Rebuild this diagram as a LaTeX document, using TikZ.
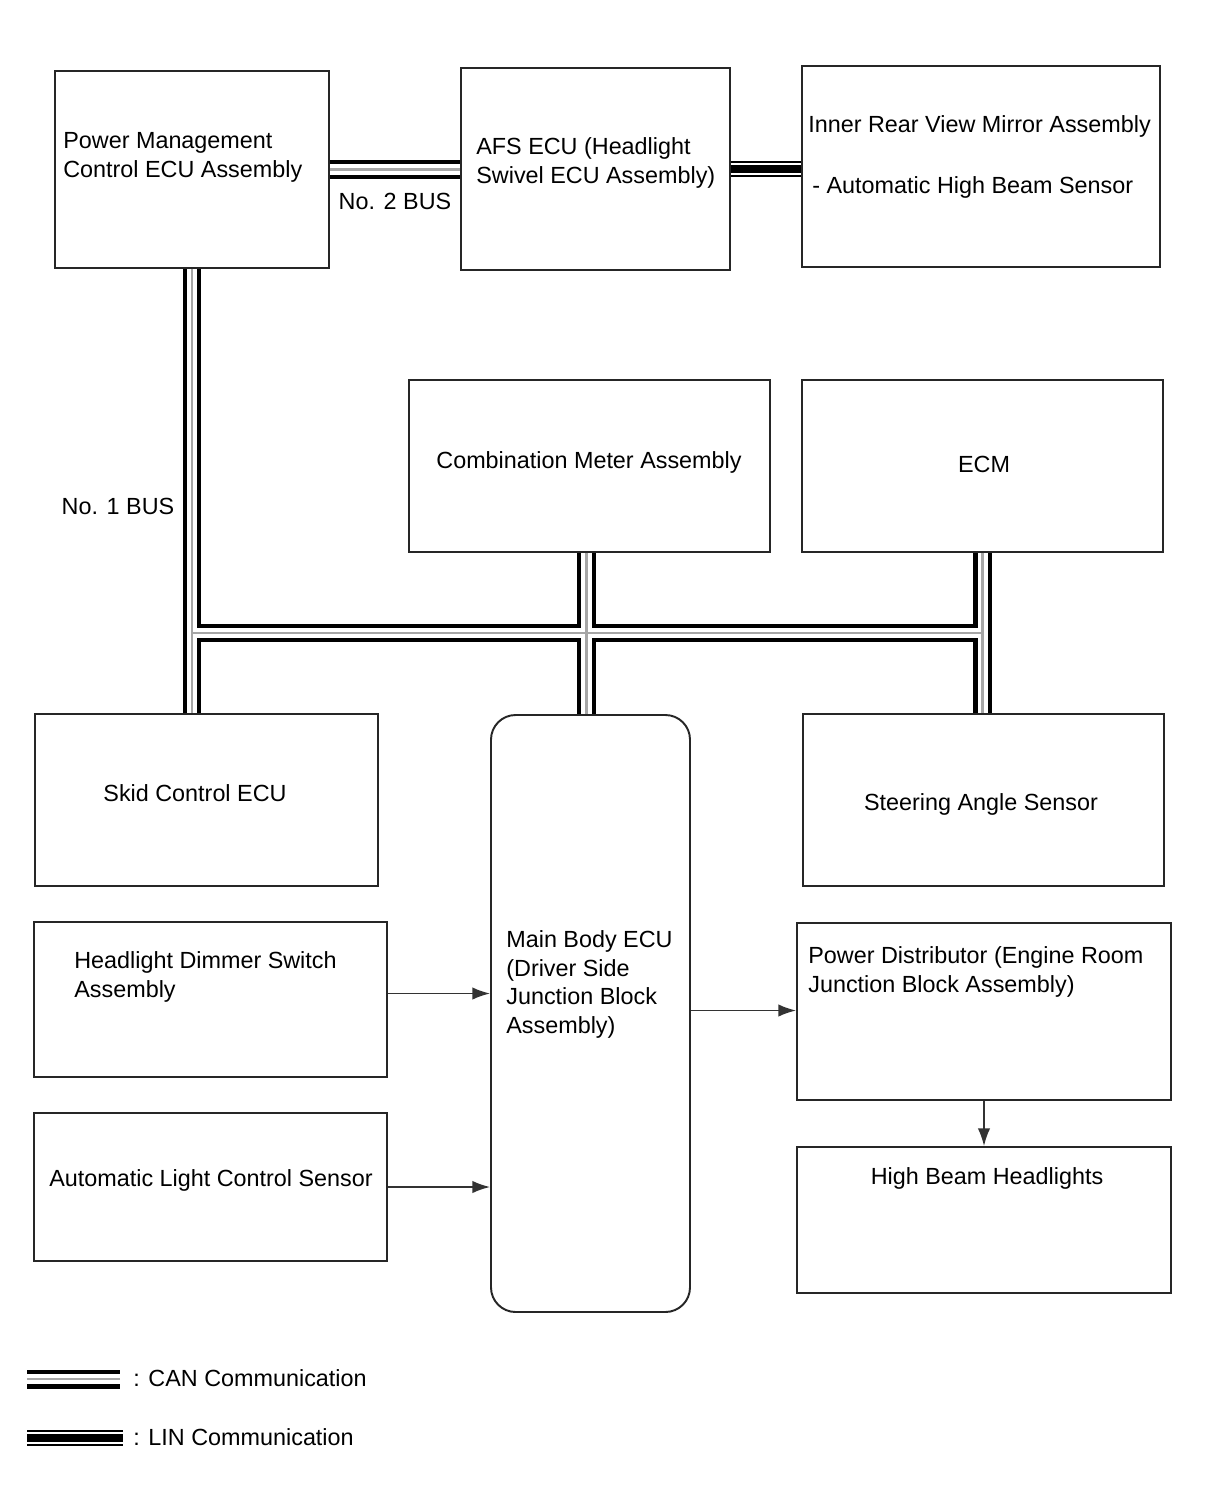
\documentclass[tikz,border=0pt]{standalone}
\usepackage{fontspec}
\setmainfont{Liberation Sans}
\usetikzlibrary{fit,arrows.meta,calc}

\tikzset{
  box/.style={draw=black!85, line width=1.1pt, inner sep=0pt},
  lbl/.style={inner sep=0pt, align=left, font=\fontsize{13.3}{16.4}\selectfont},
  arr/.style={draw=black!80, line width=0.9pt, -{Latex[length=10pt,width=7pt]}}
}

\begin{document}
\begin{tikzpicture}[x=0.02cm, y=-0.02cm]
  \path[use as bounding box, fill=white] (0,0) rectangle (1210,1498);

  % Boxes
  \node[box, fit={(55,71) (329,268)}] (pmc) {};
  \node[box, fit={(461,68) (730,270)}] (afs) {};
  \node[box, fit={(802,66) (1160,267)}] (mirror) {};
  \node[box, fit={(409,380) (770,552)}] (meter) {};
  \node[box, fit={(802,380) (1163,552)}] (ecm) {};
  \node[box, fit={(35,714) (378,886)}] (skid) {};
  \node[box, rounded corners=14pt, fit={(491,715) (690,1312)}] (main) {};
  \node[box, fit={(803,714) (1164,886)}] (steer) {};
  \node[box, fit={(34,922) (387,1077)}] (dimmer) {};
  \node[box, fit={(34,1113) (387,1261)}] (alc) {};
  \node[box, fit={(797,923) (1171,1100)}] (pd) {};
  \node[box, fit={(797,1147) (1171,1293)}] (hb) {};

  % Texts
  \node[lbl, anchor=north west] (pmctxt) at (63,132) {Power Management\\Control ECU Assembly};
  \node[lbl, anchor=north west] (afstxt) at (476,137) {AFS ECU (Headlight\\Swivel ECU Assembly)};
  \node[lbl, anchor=base west] (mirrortxt) at (808,132) {Inner Rear View Mirror Assembly};
  \node[lbl, anchor=base west] (sensortxt) at (812,193) {- Automatic High Beam Sensor};
  \node[lbl, anchor=base] (metertxt) at (589,468) {Combination Meter Assembly};
  \node[lbl, anchor=base] (ecmtxt) at (984,472) {ECM};
  \node[lbl, anchor=base] (skidtxt) at (195,801) {Skid Control ECU};
  \node[lbl, anchor=base] (steertxt) at (981,810) {Steering Angle Sensor};
  \node[lbl, anchor=north west] (maintxt) at (506,930) {Main Body ECU\\(Driver Side\\Junction Block\\Assembly)};
  \node[lbl, anchor=north west] (dimmertxt) at (74,951) {Headlight Dimmer Switch\\Assembly};
  \node[lbl, anchor=base] (alctxt) at (211,1186) {Automatic Light Control Sensor};
  \node[lbl, anchor=north west] (pdtxt) at (808,946) {Power Distributor (Engine Room\\Junction Block Assembly)};
  \node[lbl, anchor=base] (hbtxt) at (987,1184) {High Beam Headlights};
  \node[lbl, anchor=base] (bus2) at (395,209) {No. 2 BUS};
  \node[lbl, anchor=base] (bus1) at (118,514) {No. 1 BUS};

  % CAN bus (black, white, gray core)
  \coordinate (busy) at (0,633);
  \coordinate (meterbus) at ($(meter.south)+(-3,0)$);
  \foreach \lw/\col in {10.8pt/black, 5.7pt/white, 1.2pt/gray!70}
    \draw[line width=\lw, \col]
      (pmc.east) -- (pmc.east -| afs.west)
      (pmc.south) -- (pmc.south |- skid.north)
      (pmc.south |- busy) -- (ecm.south |- busy)
      (meterbus) -- (meterbus |- main.north)
      (ecm.south) -- (ecm.south |- steer.north);

  % LIN
  \foreach \lw/\col in {9.6pt/black, 7.2pt/white, 5.1pt/black}
    \draw[line width=\lw, \col] (afs.east) -- (afs.east -| mirror.west);

  % Signal arrows
  \draw[arr] ($(dimmer.east)+(0,-6)$) -- ($(dimmer.east -| main.west)+(0,-6)$);
  \draw[arr] (alc.east) -- (alc.east -| main.west);
  \draw[arr] ($(main.east)+(0,-3)$) -- ($(main.east -| pd.west)+(0,-3)$);
  \draw[arr] (pd.south) -- (pd.south |- hb.north);

  % Legend
  \coordinate (canA) at (27,1379);
  \coordinate (canB) at (120,1379);
  \coordinate (linA) at (27,1438);
  \coordinate (linB) at (123,1438);
  \foreach \lw/\col in {10.8pt/black, 5.7pt/white, 1.2pt/gray!70}
    \draw[line width=\lw, \col] (canA) -- (canB);
  \foreach \lw/\col in {9.6pt/black, 7.2pt/white, 5.1pt/black}
    \draw[line width=\lw, \col] (linA) -- (linB);
  \node[lbl, anchor=base west] (cantxt) at (133,1386) {: CAN Communication};
  \node[lbl, anchor=base west] (lintxt) at (133,1445) {: LIN Communication};
\end{tikzpicture}
\end{document}
